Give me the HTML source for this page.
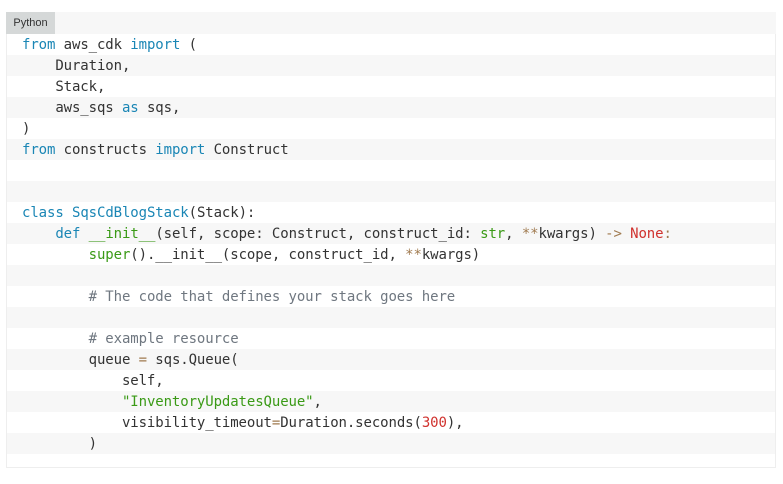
<!DOCTYPE html>
<html><head><meta charset="utf-8"><style>
html,body{margin:0;padding:0;background:#fff;width:783px;height:484px;overflow:hidden}
.box{position:absolute;left:6px;top:12px;width:770px;height:456px;border:1px solid #eee;box-sizing:border-box;background:#fff}
.lab{position:absolute;left:6px;top:12px;width:49px;height:22px;background:#d5d8d8;font:11px "Liberation Sans",sans-serif;color:#333;line-height:22px;text-align:center}
.hdr{position:absolute;left:6px;top:12px;width:770px;height:22px;background:#f7f7f7}
.rows{position:absolute;left:7px;top:34px;width:768px}
.r{height:21px;line-height:21px;font:14px "DejaVu Sans Mono","Liberation Mono",monospace;color:#333;white-space:pre;padding-left:15px;letter-spacing:-0.1px}
.r>i{font-style:normal;position:relative;top:3px}
.r:nth-child(even){background:#f7f7f7}
.k{color:#1a86b5}.f{color:#3a9a16}.s{color:#3a9a16}.n{color:#d0312d}.o{color:#a07a4f}.c{color:#6f7780}
</style></head><body>
<div class="box"></div><div class="hdr"></div><div class="lab">Python</div>
<div class="rows">
<div class="r"><i><span class="k">from</span> aws_cdk <span class="k">import</span> (</i></div>
<div class="r"><i>    Duration,</i></div>
<div class="r"><i>    Stack,</i></div>
<div class="r"><i>    aws_sqs <span class="k">as</span> sqs,</i></div>
<div class="r"><i>)</i></div>
<div class="r"><i><span class="k">from</span> constructs <span class="k">import</span> Construct</i></div>
<div class="r"> </div>
<div class="r"> </div>
<div class="r"><i><span class="k">class</span> <span class="k">SqsCdBlogStack</span>(Stack):</i></div>
<div class="r"><i>    <span class="k">def</span> <span class="f">__init__</span>(self, scope: Construct, construct_id: <span class="f">str</span>, <span class="o">**</span>kwargs) <span class="o">-&gt;</span> <span class="n">None</span><span class="o">:</span></i></div>
<div class="r"><i>        <span class="f">super</span>().__init__(scope, construct_id, <span class="o">**</span>kwargs)</i></div>
<div class="r"> </div>
<div class="r"><i>        <span class="c"># The code that defines your stack goes here</span></i></div>
<div class="r"> </div>
<div class="r"><i>        <span class="c"># example resource</span></i></div>
<div class="r"><i>        queue <span class="o">=</span> sqs.Queue(</i></div>
<div class="r"><i>            self,</i></div>
<div class="r"><i>            <span class="s">"InventoryUpdatesQueue"</span>,</i></div>
<div class="r"><i>            visibility_timeout<span class="o">=</span>Duration.seconds(<span class="n">300</span>),</i></div>
<div class="r"><i>        )</i></div>
</div>
</body></html>
